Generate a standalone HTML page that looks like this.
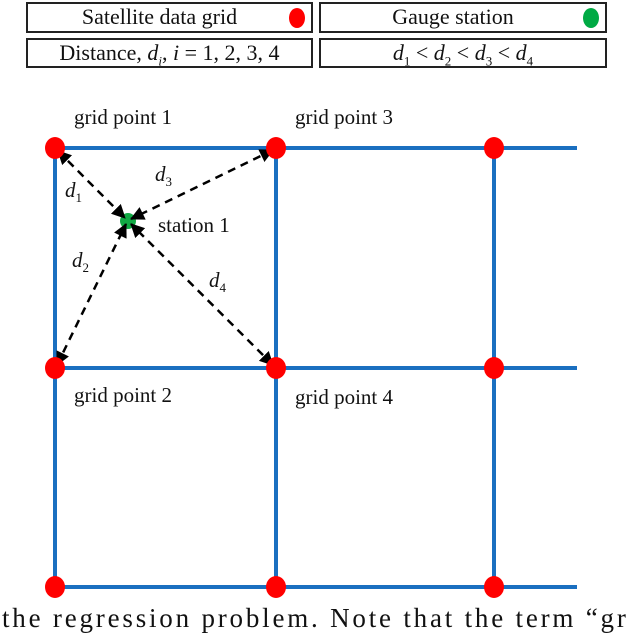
<!DOCTYPE html>
<html><head><style>
body{margin:0;background:#fff;width:640px;height:627px;overflow:hidden;position:relative;font-family:"Liberation Serif",serif}
.b{position:absolute;border:2px solid #222;box-sizing:border-box;font-size:22px;line-height:26px;text-align:center;color:#111}
.t{position:absolute;font-size:21px;color:#111;white-space:nowrap}
</style></head><body>
<div class="b" style="left:26px;top:2px;width:287px;height:31px;padding-right:20px">Satellite data grid<span style="position:absolute;right:6px;top:4px;width:16px;height:20px;border-radius:50%;background:#f00"></span></div>
<div class="b" style="left:319px;top:2px;width:288px;height:31px;padding-right:20px">Gauge station<span style="position:absolute;right:6px;top:4px;width:16px;height:20px;border-radius:50%;background:#0a4"></span></div>
<div class="b" style="left:26px;top:38px;width:287px;height:30px">Distance, <i>d<sub style="font-size:13px">i</sub></i>, <i>i</i> = 1, 2, 3, 4</div>
<div class="b" style="left:319px;top:38px;width:288px;height:30px"><i>d</i><sub style="font-size:13px">1</sub> &lt; <i>d</i><sub style="font-size:13px">2</sub> &lt; <i>d</i><sub style="font-size:13px">3</sub> &lt; <i>d</i><sub style="font-size:13px">4</sub></div>
<svg width="640" height="627" style="position:absolute;left:0;top:0">
<defs>
<marker id="m" markerWidth="14" markerHeight="14" refX="13" refY="7" orient="auto-start-reverse" markerUnits="userSpaceOnUse" viewBox="0 0 14 14"><path d="M0,0 L14,7 L0,14z" fill="#000"/></marker></defs>
<g stroke="#1a6fc0" stroke-width="4">
<line x1="55" y1="148" x2="577" y2="148"/><line x1="55" y1="368" x2="577" y2="368"/><line x1="55" y1="587" x2="577" y2="587"/>
<line x1="55" y1="148" x2="55" y2="587"/><line x1="276" y1="148" x2="276" y2="587"/><line x1="494" y1="148" x2="494" y2="587"/>
</g>
<circle cx="128" cy="221" r="8" fill="#1a4"/>
<g stroke="#000" stroke-width="2.5" stroke-dasharray="8,6" fill="none">
<line x1="58" y1="151" x2="125" y2="218" marker-start="url(#m)" marker-end="url(#m)"/>
<line x1="273" y1="150" x2="131" y2="219" marker-start="url(#m)" marker-end="url(#m)"/>
<line x1="57" y1="365" x2="126" y2="224" marker-start="url(#m)" marker-end="url(#m)"/>
<line x1="273" y1="365" x2="131" y2="224" marker-start="url(#m)" marker-end="url(#m)"/>
</g>
<g fill="#f00">
<ellipse cx="55" cy="148" rx="10" ry="11"/><ellipse cx="276" cy="148" rx="10" ry="11"/><ellipse cx="494" cy="148" rx="10" ry="11"/>
<ellipse cx="55" cy="368" rx="10" ry="11"/><ellipse cx="276" cy="368" rx="10" ry="11"/><ellipse cx="494" cy="368" rx="10" ry="11"/>
<ellipse cx="55" cy="587" rx="10" ry="11"/><ellipse cx="276" cy="587" rx="10" ry="11"/><ellipse cx="494" cy="587" rx="10" ry="11"/>
</g>
</svg>
<div class="t" style="left:74px;top:105px">grid point 1</div>
<div class="t" style="left:295px;top:105px">grid point 3</div>
<div class="t" style="left:74px;top:383px">grid point 2</div>
<div class="t" style="left:295px;top:385px">grid point 4</div>
<div class="t" style="left:158px;top:213px">station 1</div>
<div class="t" style="left:65px;top:178px"><i>d</i><sub style="font-size:13px">1</sub></div>
<div class="t" style="left:155px;top:162px"><i>d</i><sub style="font-size:13px">3</sub></div>
<div class="t" style="left:72px;top:248px"><i>d</i><sub style="font-size:13px">2</sub></div>
<div class="t" style="left:209px;top:268px"><i>d</i><sub style="font-size:13px">4</sub></div>
<div class="t" style="left:2px;top:603px;font-size:27px;letter-spacing:2.8px">the regression problem. Note that the term “gr</div>
</body></html>
